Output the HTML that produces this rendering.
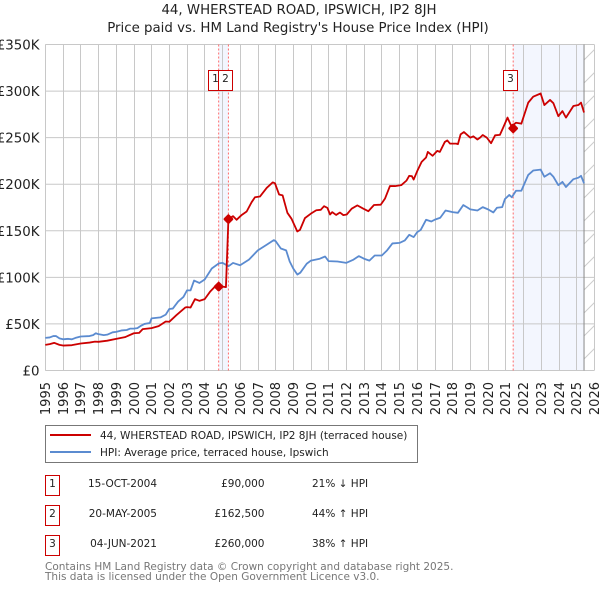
<!DOCTYPE html>
<html>
<head>
<meta charset="utf-8">
<style>
html,body{margin:0;padding:0;background:#fff;}
body{width:600px;height:590px;overflow:hidden;}
svg{display:block;font-family:"DejaVu Sans","Liberation Sans",sans-serif;}
</style>
</head>
<body>
<svg id="chart" width="600" height="590" viewBox="0 0 600 590" xmlns="http://www.w3.org/2000/svg">
  <defs>
    <pattern id="hatch" patternUnits="userSpaceOnUse" width="23" height="23">
      <line x1="0" y1="23" x2="23" y2="0" stroke="#cccccc" stroke-width="1"/>
    </pattern>
  </defs>
  <text x="299" y="14" text-anchor="middle" font-size="13.35" fill="#222">44, WHERSTEAD ROAD, IPSWICH, IP2 8JH</text>
  <text x="298" y="32" text-anchor="middle" font-size="13.35" fill="#222">Price paid vs. HM Land Registry's House Price Index (HPI)</text>
  <g id="plot"></g>

  <rect x="45.5" y="425.5" width="372" height="37" fill="#fff" stroke="#777" stroke-width="1"/>
  <line x1="50" y1="435" x2="91" y2="435" stroke="#cc0000" stroke-width="2"/>
  <text x="100" y="439" font-size="10.5" fill="#222">44, WHERSTEAD ROAD, IPSWICH, IP2 8JH (terraced house)</text>
  <line x1="50" y1="452" x2="91" y2="452" stroke="#5b8bd0" stroke-width="2"/>
  <text x="100" y="456" font-size="10.5" fill="#222">HPI: Average price, terraced house, Ipswich</text>

  <g font-size="10.5" fill="#222">
    <rect x="45.5" y="475.5" width="14" height="20" fill="#fff" stroke="#cc0000" stroke-width="1"/>
    <text x="52.5" y="487" text-anchor="middle">1</text>
    <text x="157" y="487" text-anchor="end">15-OCT-2004</text>
    <text x="264.5" y="487" text-anchor="end">£90,000</text>
    <text x="312" y="487">21% ↓ HPI</text>
  </g>
  <g font-size="10.5" fill="#222">
    <rect x="45.5" y="505.5" width="14" height="20" fill="#fff" stroke="#cc0000" stroke-width="1"/>
    <text x="52.5" y="517" text-anchor="middle">2</text>
    <text x="157" y="517" text-anchor="end">20-MAY-2005</text>
    <text x="264.5" y="517" text-anchor="end">£162,500</text>
    <text x="312" y="517">44% ↑ HPI</text>
  </g>
  <g font-size="10.5" fill="#222">
    <rect x="45.5" y="535.5" width="14" height="20" fill="#fff" stroke="#cc0000" stroke-width="1"/>
    <text x="52.5" y="547" text-anchor="middle">3</text>
    <text x="157" y="547" text-anchor="end">04-JUN-2021</text>
    <text x="264.5" y="547" text-anchor="end">£260,000</text>
    <text x="312" y="547">38% ↑ HPI</text>
  </g>
  <text x="45" y="570" font-size="10.5" fill="#777">Contains HM Land Registry data © Crown copyright and database right 2025.</text>
  <text x="45" y="580" font-size="10.5" fill="#777">This data is licensed under the Open Government Licence v3.0.</text>
</svg>
<script>
const xTickYears = [1995,1996,1997,1998,1999,2000,2001,2002,2003,2004,2005,2006,2007,2008,2009,2010,2011,2012,2013,2014,2015,2016,2017,2018,2019,2020,2021,2022,2023,2024,2025,2026];
const yTickValues = [0,50,100,150,200,250,300,350];
const yTickLabels = ["£0","£50K","£100K","£150K","£200K","£250K","£300K","£350K"];

const hpiYears = [1995,1995.25,1995.45,1995.6,1995.8,1996,1996.3,1996.5,1996.7,1997,1997.5,1997.7,1997.85,1998,1998.3,1998.5,1998.8,1999,1999.3,1999.6,1999.8,2000,2000.2,2000.4,2000.6,2000.9,2001,2001.5,2001.8,2002,2002.2,2002.5,2002.8,2003,2003.2,2003.4,2003.7,2004,2004.4,2004.8,2005,2005.35,2005.6,2006,2006.5,2007,2007.5,2007.9,2008,2008.3,2008.6,2008.8,2009,2009.23,2009.4,2009.76,2010,2010.5,2010.8,2011,2011.5,2012,2012.4,2012.7,2013,2013.3,2013.6,2014,2014.3,2014.6,2015,2015.3,2015.55,2015.8,2016,2016.2,2016.5,2016.8,2017,2017.3,2017.6,2018,2018.3,2018.6,2018.8,2019,2019.4,2019.7,2020,2020.3,2020.5,2020.8,2020.95,2021.2,2021.34,2021.58,2021.88,2022.27,2022.55,2022.97,2023.18,2023.5,2023.69,2023.97,2024.2,2024.4,2024.82,2025.1,2025.25,2025.42];
const hpiValues = [35,35.5,37,37,34.5,33.5,34,33.5,35,36.5,37,38,40,39,38,38.5,41,41.5,43,43.5,45,45,45.5,48,50,51,56,57,60,66,66.5,74,79,86,86,96.6,94,97.7,109.5,115,115.6,112,115.5,113,119,129,135,140,139,131,129,117,109.5,103,105,114.6,118,120,122.4,117.4,117,115.6,119,122.8,120,118,123.5,123.5,129,136.4,137,139.6,145.7,143.2,148.6,151,161.8,160,162,164,171.8,170,169.3,177.6,175.4,173,171.8,175.4,173,169.7,174.7,175.4,184,188.5,186,193,193,210,214.7,215.7,208,211.8,208,199,202.5,197,205.4,207,209,201];

const priceYears = [1995,1995.25,1995.5,1995.8,1996,1996.5,1997,1997.5,1997.8,1998,1998.5,1999,1999.5,2000,2000.3,2000.5,2001,2001.4,2001.8,2002,2002.4,2002.9,2003,2003.2,2003.45,2003.7,2004,2004.3,2004.6,2005,2005.2,2005.34,2005.6,2005.8,2006.09,2006.37,2006.65,2006.84,2007.12,2007.5,2007.84,2007.97,2008.2,2008.4,2008.67,2008.9,2009.23,2009.38,2009.66,2010.04,2010.3,2010.55,2010.74,2010.93,2011.08,2011.2,2011.42,2011.64,2011.83,2012.02,2012.3,2012.62,2012.96,2013.24,2013.56,2013.94,2014.18,2014.46,2014.75,2015.1,2015.4,2015.55,2015.7,2015.8,2016,2016.25,2016.5,2016.6,2016.87,2017.13,2017.28,2017.56,2017.7,2017.85,2018.2,2018.3,2018.45,2018.64,2019,2019.17,2019.4,2019.55,2019.7,2019.93,2020.17,2020.4,2020.67,2020.86,2021.1,2021.3,2021.45,2021.58,2021.88,2022.27,2022.55,2022.97,2023.18,2023.5,2023.69,2023.97,2024.2,2024.4,2024.82,2025.1,2025.25,2025.42];
const priceValues = [27.5,28.3,29.7,27.5,26.8,27.2,29,30,31,30.8,32,34,35.8,40,40.4,44.4,45.5,47.6,52.6,52.3,59.4,67.6,68,67.6,76.6,74.8,76.6,84.5,90.5,90,89.5,162.5,165.7,161.8,167,170.7,180.7,186,186.8,196,202,201,189,188,169.3,163,149.3,151,163.6,169,172,172.5,176.4,174.6,167.5,170,167,169.6,166.8,167.5,173.7,177.3,173.7,171,177.7,178,184.5,198,198,199,204,209,208.6,205,214,224,228.7,234.7,230.5,235.8,234.7,245.4,247,243.6,243.6,243,253.5,256,250,251.4,248,250,252.8,250,244,252.5,253,261,271.5,263,264,266,265,287.6,294,297.4,285,290.5,287,273,278.5,271.5,284,285,287.6,277];

const saleLabels = ["1","2","3"];
const saleYears = [2004.79,2005.34,2021.42];
const saleValues = [90,162.5,260];
const forecastStartYear = 2025.42;

const NS = "http://www.w3.org/2000/svg";
const plot = document.getElementById("plot");
const xScale = function (year) { return 45.3 + (year - 1995) * 549 / 31; };
const yScale = function (value) { return 370.5 - value * 326 / 350; };
const crisp = function (p) { return Math.round(p - 0.3) + 0.5; };

function make(tag, attrs, parent) {
  const node = document.createElementNS(NS, tag);
  Object.keys(attrs).forEach(function (k) { node.setAttribute(k, attrs[k]); });
  (parent || plot).appendChild(node);
  return node;
}

const topY = yScale(350);
const bottomY = yScale(0);
const leftX = xScale(1995);
const rightX = xScale(2026);

const band1 = make("rect", {x: xScale(saleYears[0]), y: topY, width: xScale(saleYears[1]) - xScale(saleYears[0]), height: bottomY - topY, fill: "#f3f6fe"});


const band2 = make("rect", {x: xScale(saleYears[2]), y: topY, width: xScale(forecastStartYear) - xScale(saleYears[2]), height: bottomY - topY, fill: "#f3f6fe"});



xTickYears.forEach(function (year) {
  const px = crisp(xScale(year));
  const grid = make("line", {x1: px, x2: px, y1: topY, y2: bottomY, stroke: "#c8c8c8", "stroke-width": 1});
  
  
  const ly = 382;
  const label = make("text", {x: px + 4.5, y: ly, "text-anchor": "end", "font-size": 13, fill: "#222", transform: "rotate(-90 " + (px + 4.5) + " " + ly + ")"});
  
  
  label.textContent = String(year);
});

yTickValues.forEach(function (value, i) {
  const py = yScale(value);
  const grid = make("line", {x1: leftX, x2: rightX, y1: py, y2: py, stroke: "#c8c8c8", "stroke-width": 1});
  
  
  const label = make("text", {x: 39.5, y: py + 5, "text-anchor": "end", "font-size": 13.35, fill: "#222"});
  
  
  label.textContent = yTickLabels[i];
});

const hatchRect = make("rect", {x: xScale(forecastStartYear), y: topY, width: rightX - xScale(forecastStartYear), height: bottomY - topY, fill: "url(#hatch)"});


const endLine = make("line", {x1: xScale(forecastStartYear), x2: xScale(forecastStartYear), y1: topY, y2: bottomY, stroke: "#888", "stroke-width": 1});



saleYears.forEach(function (year) {
  const px = xScale(year);
  const v = make("line", {x1: px, x2: px, y1: topY, y2: bottomY, stroke: "#ff6b6b", "stroke-width": 1, "stroke-dasharray": "2 2"});
  
  
});

function pathFrom(xs, ys) {
  return xs.map(function (year, i) {
    return (i ? "L" : "M") + xScale(year).toFixed(2) + " " + yScale(ys[i]).toFixed(2);
  }).join("");
}

const hpiLine = make("path", {d: pathFrom(hpiYears, hpiValues), fill: "none", stroke: "#5b8bd0", "stroke-width": 1.8, "stroke-linejoin": "round"});


const priceLine = make("path", {d: pathFrom(priceYears, priceValues), fill: "none", stroke: "#cc0000", "stroke-width": 1.8, "stroke-linejoin": "round"});



saleYears.forEach(function (year, i) {
  const px = xScale(year);
  const py = yScale(saleValues[i]);
  const r = 3.4;
  const marker = make("polygon", {points: [px - r, py, px, py - r, px + r, py, px, py + r].join(" "), fill: "#cc0000", stroke: "#cc0000", "stroke-width": 2.8, "stroke-linejoin": "round"});
  
  
  const bx = crisp(px - 10);
  const box = make("rect", {x: bx, y: 70.5, width: 14, height: 20, fill: "#fff", stroke: "#cc0000", "stroke-width": 1});
  
  
  const t = make("text", {x: bx + 7, y: 82, "text-anchor": "middle", "font-size": 10.5, fill: "#222"});
  
  
  t.textContent = saleLabels[i];
});
</script>
</body>
</html>
